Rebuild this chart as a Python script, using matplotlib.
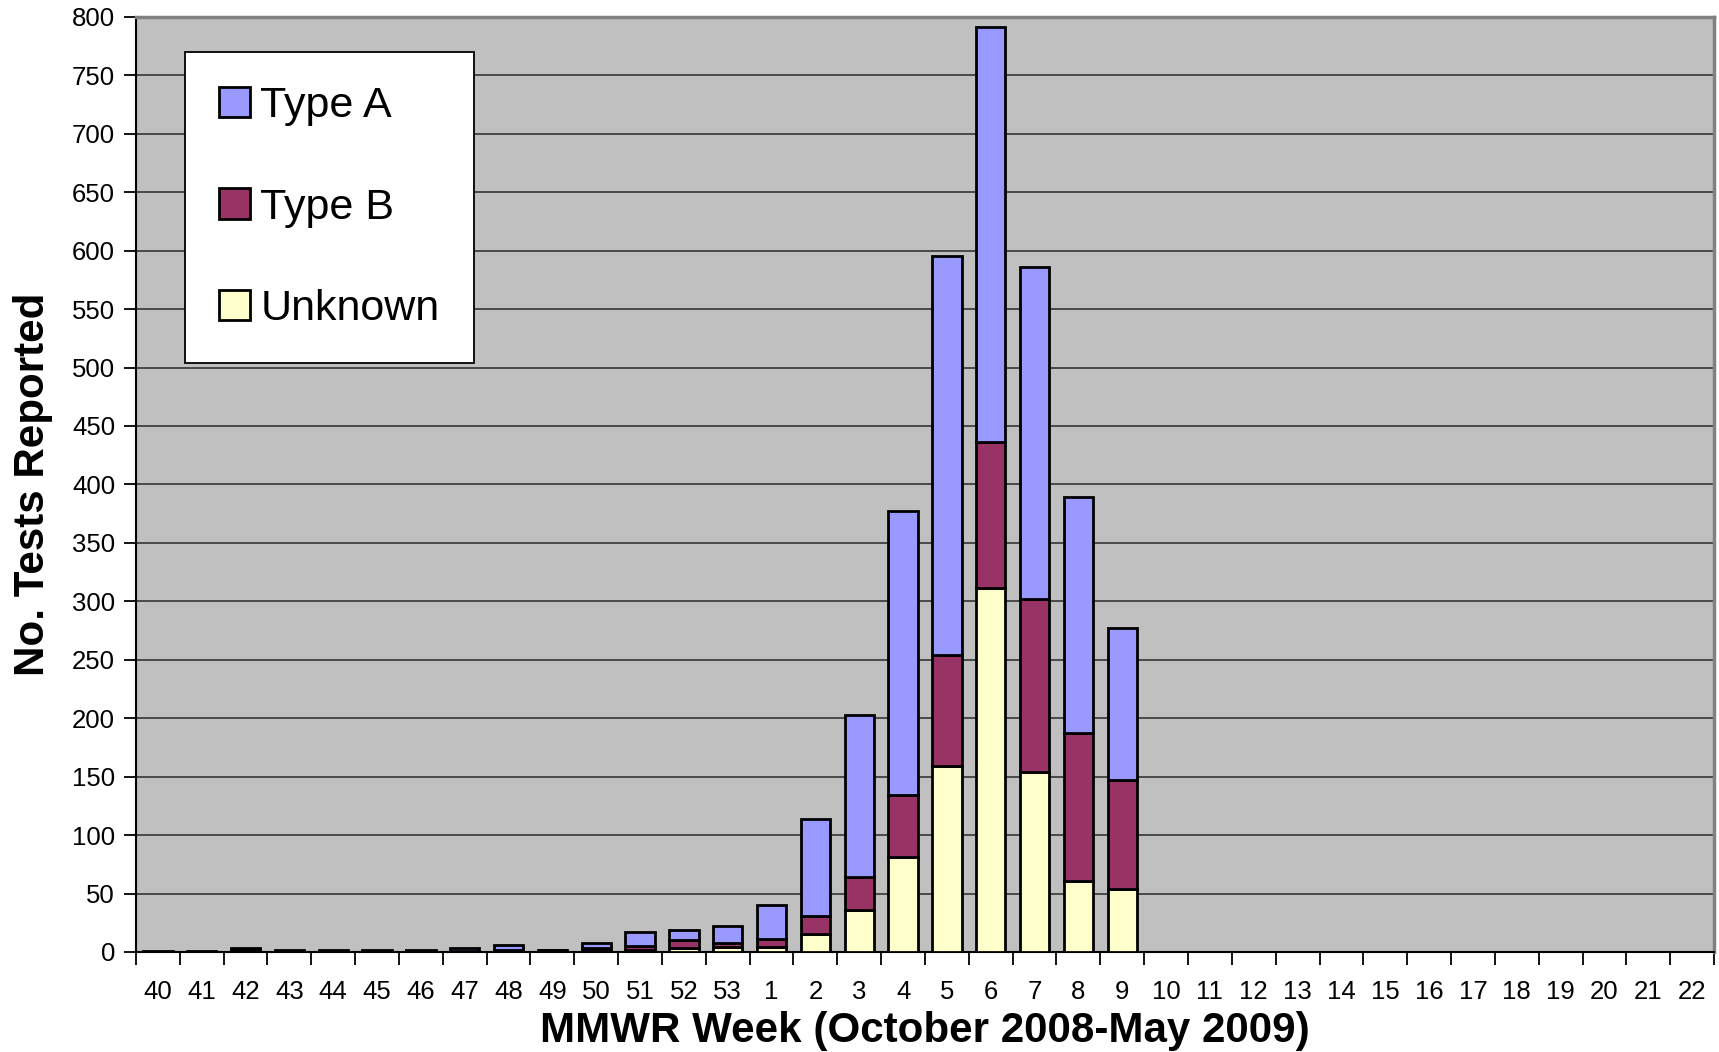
import matplotlib
matplotlib.use("Agg")
import matplotlib.pyplot as plt
from matplotlib.patches import Patch
import numpy as np

plt.rcParams['font.family'] = ['Liberation Sans', 'DejaVu Sans']

weeks = ['40', '41', '42', '43', '44', '45', '46', '47', '48', '49', '50', '51', '52', '53',
         '1', '2', '3', '4', '5', '6', '7', '8', '9', '10', '11', '12', '13', '14', '15',
         '16', '17', '18', '19', '20', '21', '22']
unknown = [0, 0, 1, 1, 1, 1, 1, 1, 1, 1, 1, 2, 3, 4, 4, 15, 36, 81, 159, 311, 154, 61, 54,
           0, 0, 0, 0, 0, 0, 0, 0, 0, 0, 0, 0, 0]
type_b = [0, 0, 1, 0, 0, 0, 0, 0, 1, 1, 2, 3, 7, 4, 7, 16, 28, 53, 95, 125, 148, 126, 93,
          0, 0, 0, 0, 0, 0, 0, 0, 0, 0, 0, 0, 0]
type_a = [1, 1, 1, 1, 1, 1, 1, 2, 4, 0, 5, 12, 9, 14, 29, 83, 139, 243, 341, 355, 284, 202, 130,
          0, 0, 0, 0, 0, 0, 0, 0, 0, 0, 0, 0, 0]

col_a = '#9999FF'
col_b = '#993366'
col_u = '#FFFFCC'

fig = plt.figure(figsize=(17.19, 10.52), dpi=100)
ax = fig.add_axes([0.0791, 0.0951, 0.9180, 0.8889])
ax.set_facecolor('#C0C0C0')

x = np.arange(len(weeks))
u = np.array(unknown)
b = np.array(type_b)
a = np.array(type_a)
w = 0.667
lw = 2.0
ax.bar(x, u, width=w, color=col_u, edgecolor='black', linewidth=lw, zorder=3)
ax.bar(x, b, width=w, bottom=u, color=col_b, edgecolor='black', linewidth=lw, zorder=3)
ax.bar(x, a, width=w, bottom=u + b, color=col_a, edgecolor='black', linewidth=lw, zorder=3)

ax.set_xlim(-0.5, len(weeks) - 0.5)
ax.set_ylim(0, 800)
ax.set_yticks(np.arange(0, 801, 50))
ax.yaxis.grid(True, color='#404040', linewidth=1.3, zorder=0)
ax.set_axisbelow(True)

ax.set_xticks(x)
ax.set_xticklabels(weeks)
ax.set_xticks(np.arange(-0.5, len(weeks), 1), minor=True)
ax.tick_params(axis='x', which='major', length=0, pad=20.5, labelsize=18.5)
ax.tick_params(axis='x', which='minor', length=9, width=1.3, direction='out', color='black')
ax.tick_params(axis='y', which='major', length=9, width=1.3, direction='out', labelsize=18.5, pad=6)

for s in ['top', 'right']:
    ax.spines[s].set_color('#808080')
    ax.spines[s].set_linewidth(2.5)
for s in ['left', 'bottom']:
    ax.spines[s].set_color('black')
    ax.spines[s].set_linewidth(1.5)

ax.set_xlabel('MMWR Week (October 2008-May 2009)', fontsize=30.3, fontweight='bold', labelpad=5)
ax.set_ylabel('No. Tests Reported', fontsize=30.3, fontweight='bold', labelpad=14)

handles = [Patch(facecolor=col_a, edgecolor='black', linewidth=2, label='Type A'),
           Patch(facecolor=col_b, edgecolor='black', linewidth=2, label='Type B'),
           Patch(facecolor=col_u, edgecolor='black', linewidth=2, label='Unknown')]
leg = fig.legend(handles=handles, loc='upper left', bbox_to_anchor=(0.1076, 0.9506),
                 fontsize=31, frameon=True, fancybox=False, edgecolor='black',
                 framealpha=1, handlelength=0.7, handleheight=0.7, handletextpad=0.25,
                 labelspacing=1.42, borderpad=0.8, borderaxespad=0)
leg.get_frame().set_linewidth(1.3)

fig.savefig('out.png', dpi=100, facecolor='white')
